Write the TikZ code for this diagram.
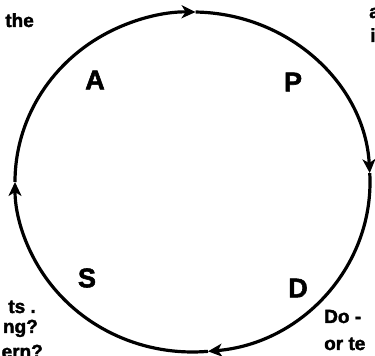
\documentclass[tikz,border=0pt]{standalone}
\usepackage{fontspec}
\setmainfont{Liberation Sans}[BoldFeatures={FakeBold=2}]
\usetikzlibrary{arrows.meta,calc}

\begin{document}
\begin{tikzpicture}[x=1pt, y=1pt, >={Stealth[length=14pt, width=13pt, inset=4pt]},
  cyc/.style={line width=3.2pt, ->},
  step letter/.style={font=\bfseries\fontsize{27}{27}\selectfont, inner sep=0pt},
  note/.style={font=\bfseries\fontsize{19}{21}\selectfont, inner sep=0pt}]
  \useasboundingbox (0,0) rectangle (375,356);
  \clip (0,0) rectangle (375,356);
  % cycle
  \coordinate (c) at (192.5,174);
  \coordinate (w) at ($(c)+(180:177.5pt and 170pt)$);
  \coordinate (n) at ($(c)+(89:177.5pt and 170pt)$);
  \coordinate (e) at ($(c)+(3:177.5pt and 170pt)$);
  \coordinate (s) at ($(c)+(-85:177.5pt and 170pt)$);
  \draw[cyc] (w) arc[start angle=180, end angle=89, x radius=177.5pt, y radius=170pt];
  \draw[cyc] (n) arc[start angle=89, end angle=3, x radius=177.5pt, y radius=170pt];
  \draw[cyc] (e) arc[start angle=3, end angle=-85, x radius=177.5pt, y radius=170pt];
  \draw[cyc] (s) arc[start angle=-85, end angle=-180, x radius=177.5pt, y radius=170pt];
  % letters
  \node[step letter] (act) at (95,276) {A};
  \node[step letter] (plan) at (293,274) {P};
  \node[step letter] (study) at (87,78) {S};
  \node[step letter] (do) at (298,68) {D};
  % notes (cut by the frame)
  \node[note, anchor=base east] (tl) at (34,329) {the};
  \node[note, anchor=base west] (tr1) at (369,338) {a};
  \node[note, anchor=base west] (tr2) at (370,314) {i};
  \node[note, anchor=base east] (bl1) at (36,43) {ts .};
  \node[note, anchor=base east] (bl2) at (38,23) {ng?};
  \node[note, anchor=base east] (bl3) at (43,-2) {ern?};
  \node[note, anchor=base west] (br1) at (324,33) {Do -};
  \node[note, anchor=base west] (br2) at (324,6) {or te};
\end{tikzpicture}
\end{document}
